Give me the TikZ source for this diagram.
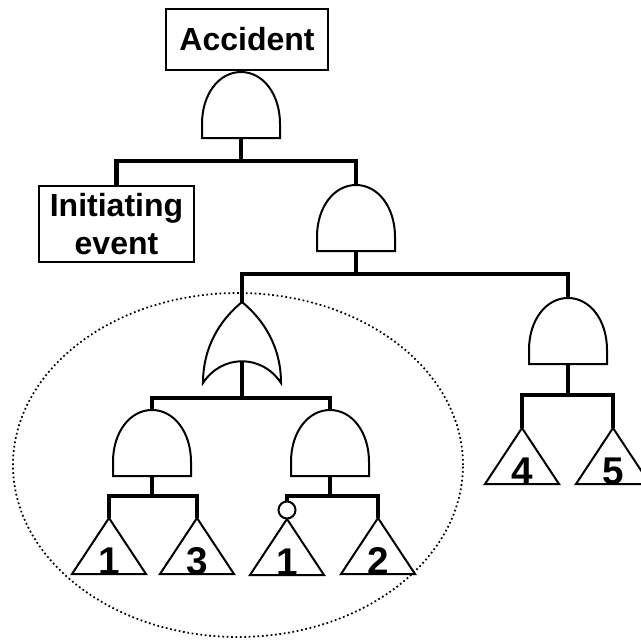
\documentclass[tikz,border=0pt]{standalone}
\usepackage{fontspec}
\setmainfont{Liberation Sans}
\usetikzlibrary{positioning}

\tikzset{
  gate/.style={draw,line width=1.5pt,fill=white},
  conn/.style={line width=3.2pt},
  evbox/.style={draw,line width=1.6pt,fill=white,align=center,inner sep=0pt,
    font=\fontsize{24}{28.5}\selectfont\bfseries},
  num/.style={inner sep=0pt,font=\fontsize{29}{30}\selectfont\bfseries},
  notc/.style={circle,draw,line width=1.5pt,fill=white,inner sep=0pt,minimum size=12.75pt},
  % and gate: apex at the origin, flat base below
  andgate/.pic={
    \draw[gate] (-39,66) -- (-39,52) .. controls (-39,22) and (-22,0) .. (0,0)
      .. controls (22,0) and (39,22) .. (39,52) -- (39,66) -- cycle;
    \coordinate (-top) at (0,0);
    \coordinate (-bot) at (0,66);
  },
  % or gate: pointed apex, hollow base
  orgate/.pic={
    \draw[gate] (0,0) .. controls (-22,18) and (-39,45) .. (-39,81)
      .. controls (-20,52) and (20,52) .. (39,81)
      .. controls (39,45) and (22,18) .. (0,0) -- cycle;
    \coordinate (-top) at (0,0);
    \coordinate (-bot) at (0,59.25);
  },
  % transfer triangle with its number
  transfer/.pic={
    \draw[gate,line join=miter] (0,0) -- (37,56) -- (-37,56) -- cycle;
    \node[num,anchor=base] (-num) at (0,56.5) {#1};
    \coordinate (-top) at (0,0);
  }
}

\begin{document}
\begin{tikzpicture}[x=0.75pt,y=-0.75pt]
  \useasboundingbox (0,0) rectangle (641,644);

  % sub-tree boundary
  \draw[dotted,line width=1.3pt] (238,465) ellipse [x radius=168.75pt,y radius=129pt];

  \node[evbox,minimum width=121.5pt,minimum height=45.75pt] (acc) at (247,39.5) {Accident};
  \node[evbox,minimum width=116.25pt,minimum height=57pt] (ie) at (116.5,224) {Initiating\\event};

  \pic (g1) at (241,72) {andgate};
  \pic (g2) at (356,185) {andgate};
  \pic (orr) at (242,302) {orgate};
  \pic (gA) at (152,410) {andgate};
  \pic (gB) at (330,410) {andgate};
  \pic (gC) at (568,298) {andgate};

  \pic (t1) at (109,518) {transfer=1};
  \pic (t3) at (197,518) {transfer=3};
  \pic (t1b) at (287,519) {transfer=1};
  \pic (t2) at (378,518) {transfer=2};
  \pic (t4) at (522,428) {transfer=4};
  \pic (t5) at (613,428) {transfer=5};
  \node[notc] (inv) at (287,510) {};

  \draw[conn] (g1-bot) -- ++(0,23) coordinate (b1);
  \draw[conn] (ie.north) |- (b1) -| (g2-top);
  \draw[conn] (g2-bot) -- ++(0,23) coordinate (b2);
  \draw[conn] (orr-top) |- (b2) -| (gC-top);
  \draw[conn] (orr-bot) -- ++(0,37) coordinate (b3);
  \draw[conn] (gA-top) |- (b3) -| (gB-top);
  \draw[conn] (gA-bot) -- ++(0,20) coordinate (b4);
  \draw[conn] (t1-top) |- (b4) -| (t3-top);
  \draw[conn] (gB-bot) -- ++(0,20) coordinate (b5);
  \draw[conn] (inv.north) |- (b5) -| (t2-top);
  \draw[conn] (gC-bot) -- ++(0,31) coordinate (b6);
  \draw[conn] (t4-top) |- (b6) -| (t5-top);
\end{tikzpicture}
\end{document}
